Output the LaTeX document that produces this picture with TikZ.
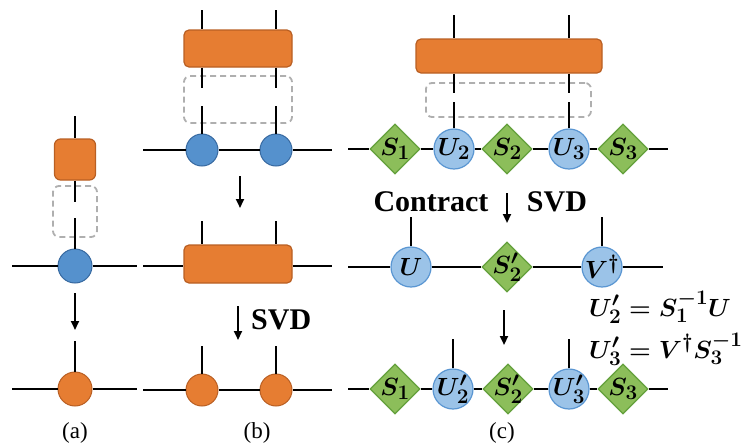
\documentclass[tikz,border=0pt]{standalone}
\usepackage[no-math]{fontspec}
\setmainfont{Liberation Serif}
\usetikzlibrary{shapes.geometric,arrows.meta}

\definecolor{orfill}{RGB}{230,125,50}
\definecolor{ordraw}{RGB}{185,95,35}
\definecolor{bluefill}{RGB}{85,145,205}
\definecolor{bluedraw}{RGB}{55,105,160}
\definecolor{lbfill}{RGB}{155,195,232}
\definecolor{lbdraw}{RGB}{90,150,210}
\definecolor{grfill}{RGB}{140,190,90}
\definecolor{grdraw}{RGB}{100,160,60}
\definecolor{dashgray}{RGB}{175,175,175}

\tikzset{
  bond/.style={line width=2.3pt, black},
  tensorbox/.style={draw=ordraw, fill=orfill, line width=1.2pt, rounded corners=5pt, inner sep=0pt},
  ghost/.style={draw=dashgray, line width=1.8pt, dash pattern=on 6pt off 4pt, rounded corners=6pt, inner sep=0pt},
  sitedark/.style={circle, draw=bluedraw, fill=bluefill, line width=1pt, minimum size=34pt, inner sep=0pt},
  siteorange/.style={circle, draw=ordraw, fill=orfill, line width=1pt, minimum size=34pt, inner sep=0pt},
  sitelight/.style={circle, draw=lbdraw, fill=lbfill, line width=1.2pt, minimum size=40pt, inner sep=0pt},
  weight/.style={diamond, draw=grdraw, fill=grfill, line width=1.2pt, minimum size=50pt, inner sep=0pt},
  sym/.style={font=\fontsize{28}{32}\selectfont\mathversion{bold}, inner sep=0pt},
  eqn/.style={font=\fontsize{28}{32}\selectfont\mathversion{bold}, inner sep=0pt},
  flow/.style={line width=2.2pt, -{Triangle[length=9pt,width=8pt]}},
  caption/.style={font=\fontsize{23}{27}\selectfont, inner sep=0pt},
  boldtext/.style={font=\fontsize{30}{34}\selectfont\bfseries, inner sep=0pt},
}

\begin{document}
\begin{tikzpicture}[x=1pt, y=-1pt]
\useasboundingbox (0,0) rectangle (742,447);

% ---------------- (a) single-site update ----------------
\node[tensorbox, minimum width=41pt, minimum height=41pt, rounded corners=6pt] (asq) at (75,159.5) {};
\node[ghost, minimum width=44pt, minimum height=51pt] (aghost) at (75,211.5) {};
\node[sitedark] (asite) at (75,266) {};
\node[siteorange] (anew) at (75,389) {};
\coordinate (a-top) at (75,116);
\coordinate (a-g1) at (75,202);
\coordinate (a-g2) at (75,218);
\coordinate (a-l1) at (12,266);
\coordinate (a-r1) at (137,266);
\coordinate (a-arr1) at (75,293);
\coordinate (a-arr2) at (75,330);
\coordinate (a-up) at (75,341);
\coordinate (a-l2) at (12,389);
\coordinate (a-r2) at (137,389);
\draw[bond] (a-top) -- (asq.north);
\draw[bond] (asq.south) -- (a-g1);
\draw[bond] (a-g2) -- (asite.north);
\draw[bond] (a-l1) -- (asite.west);
\draw[bond] (asite.east) -- (a-r1);
\draw[flow] (a-arr1) -- (a-arr2);
\draw[bond] (a-up) -- (anew.north);
\draw[bond] (a-l2) -- (anew.west);
\draw[bond] (anew.east) -- (a-r2);
\node[caption] (acap) at (75,433) {(a)};

% ---------------- (b) two-site update ----------------
\node[tensorbox, minimum width=108pt, minimum height=37pt] (btop) at (238,48.5) {};
\node[ghost, minimum width=108pt, minimum height=47pt] (bghost) at (238,99.5) {};
\node[sitedark, minimum size=32pt] (bs1) at (202,150) {};
\node[sitedark, minimum size=32pt] (bs2) at (276,150) {};
\coordinate (b-t1) at (202,10);
\coordinate (b-t2) at (276,10);
\coordinate (b-g1a) at (202,88);
\coordinate (b-g2a) at (276,88);
\coordinate (b-g1b) at (202,106);
\coordinate (b-g2b) at (276,106);
\coordinate (b-l1) at (143,150);
\coordinate (b-r1) at (332,150);
\draw[bond] (b-t1) -- (b-t1 |- btop.north);
\draw[bond] (b-t2) -- (b-t2 |- btop.north);
\draw[bond] (b-t1 |- btop.south) -- (b-g1a);
\draw[bond] (b-t2 |- btop.south) -- (b-g2a);
\draw[bond] (b-g1b) -- (bs1.north);
\draw[bond] (b-g2b) -- (bs2.north);
\draw[bond] (b-l1) -- (bs1.west);
\draw[bond] (bs1.east) -- (bs2.west);
\draw[bond] (bs2.east) -- (b-r1);
\coordinate (b-arr1) at (240,176);
\coordinate (b-arr2) at (240,208);
\draw[flow] (b-arr1) -- (b-arr2);

\node[tensorbox, minimum width=108pt, minimum height=38pt] (bmid) at (238,264) {};
\coordinate (b-m1) at (202,221);
\coordinate (b-m2) at (276,221);
\coordinate (b-l2) at (143,266);
\coordinate (b-r2) at (332,266);
\draw[bond] (b-m1) -- (b-m1 |- bmid.north);
\draw[bond] (b-m2) -- (b-m2 |- bmid.north);
\draw[bond] (b-l2) -- (b-l2 -| bmid.west);
\draw[bond] (b-r2 -| bmid.east) -- (b-r2);

\coordinate (b-arr3) at (238,306);
\coordinate (b-arr4) at (238,340);
\draw[flow] (b-arr3) -- (b-arr4);
\node[boldtext, anchor=west] (bsvd) at (251,320) {SVD};

\node[siteorange, minimum size=32pt] (bn1) at (202,390) {};
\node[siteorange, minimum size=32pt] (bn2) at (276,390) {};
\coordinate (b-u1) at (202,346);
\coordinate (b-u2) at (276,346);
\coordinate (b-l3) at (143,390);
\coordinate (b-r3) at (332,390);
\draw[bond] (b-u1) -- (bn1.north);
\draw[bond] (b-u2) -- (bn2.north);
\draw[bond] (b-l3) -- (bn1.west);
\draw[bond] (bn1.east) -- (bn2.west);
\draw[bond] (bn2.east) -- (b-r3);
\node[caption] (bcap) at (257,433) {(b)};

% ---------------- (c) update in canonical form ----------------
\node[tensorbox, minimum width=186pt, minimum height=34pt] (ctop) at (509,56) {};
\node[ghost, minimum width=165pt, minimum height=34pt] (cghost) at (508.5,100) {};
\node[weight, label={[sym]center:$S_1$}] (cs1) at (395,149) {};
\node[sitelight, label={[sym]center:$U_2$}] (cu2) at (454,149) {};
\node[weight, label={[sym]center:$S_2$}] (cs2) at (507,149) {};
\node[sitelight, label={[sym]center:$U_3$}] (cu3) at (569,149) {};
\node[weight, label={[sym]center:$S_3$}] (cs3) at (623,149) {};
\coordinate (c-t1) at (454,15);
\coordinate (c-t2) at (569,15);
\coordinate (c-g1a) at (454,93);
\coordinate (c-g2a) at (569,93);
\coordinate (c-g1b) at (454,102);
\coordinate (c-g2b) at (569,102);
\coordinate (c-l1) at (348,149);
\coordinate (c-r1) at (668,149);
\draw[bond] (c-t1) -- (c-t1 |- ctop.north);
\draw[bond] (c-t2) -- (c-t2 |- ctop.north);
\draw[bond] (c-t1 |- ctop.south) -- (c-g1a);
\draw[bond] (c-t2 |- ctop.south) -- (c-g2a);
\draw[bond] (c-g1b) -- (cu2.north);
\draw[bond] (c-g2b) -- (cu3.north);
\draw[bond] (c-l1) -- (cs1.west);
\draw[bond] (cs1.east) -- (cu2.west);
\draw[bond] (cu2.east) -- (cs2.west);
\draw[bond] (cs2.east) -- (cu3.west);
\draw[bond] (cu3.east) -- (cs3.west);
\draw[bond] (cs3.east) -- (c-r1);

\node[boldtext] (ccontract) at (431,202) {Contract};
\coordinate (c-arr1) at (507,193);
\coordinate (c-arr2) at (507,223);
\draw[flow] (c-arr1) -- (c-arr2);
\node[boldtext] (csvd) at (557,202) {SVD};

\node[sitelight, label={[sym]center:$U$}] (cu) at (411,267) {};
\node[weight, label={[sym]center:$S'_2$}] (cs2m) at (507,267) {};
\node[sitelight, label={[sym]center:$V^{\dagger}$}] (cv) at (602,267) {};
\coordinate (c-m1) at (411,217);
\coordinate (c-m2) at (602,217);
\coordinate (c-l2) at (348,267);
\coordinate (c-r2) at (663,267);
\draw[bond] (c-m1) -- (cu.north);
\draw[bond] (c-m2) -- (cv.north);
\draw[bond] (c-l2) -- (cu.west);
\draw[bond] (cu.east) -- (cs2m.west);
\draw[bond] (cs2m.east) -- (cv.west);
\draw[bond] (cv.east) -- (c-r2);

% relations between the old and new site tensors
\node[eqn, anchor=base west] (ceq1) at (589,316) {$U'_2 = S_1^{-1}U$};
\node[eqn, anchor=base west] (ceq2) at (589,358) {$U'_3 = V^{\dagger}S_3^{-1}$};

\coordinate (c-arr3) at (504,310);
\coordinate (c-arr4) at (504,345);
\draw[flow] (c-arr3) -- (c-arr4);

\node[weight, label={[sym]center:$S_1$}] (cb1) at (395,389) {};
\node[sitelight, label={[sym]center:$U'_2$}] (cb2) at (453,389) {};
\node[weight, label={[sym]center:$S'_2$}] (cb3) at (508,389) {};
\node[sitelight, label={[sym]center:$U'_3$}] (cb4) at (569,389) {};
\node[weight, label={[sym]center:$S_3$}] (cb5) at (623,389) {};
\coordinate (c-u1) at (453,339);
\coordinate (c-u2) at (569,339);
\coordinate (c-l3) at (348,389);
\coordinate (c-r3) at (668,389);
\draw[bond] (c-u1) -- (cb2.north);
\draw[bond] (c-u2) -- (cb4.north);
\draw[bond] (c-l3) -- (cb1.west);
\draw[bond] (cb1.east) -- (cb2.west);
\draw[bond] (cb2.east) -- (cb3.west);
\draw[bond] (cb3.east) -- (cb4.west);
\draw[bond] (cb4.east) -- (cb5.west);
\draw[bond] (cb5.east) -- (c-r3);
\node[caption] (ccap) at (502,433) {(c)};
\end{tikzpicture}
\end{document}
